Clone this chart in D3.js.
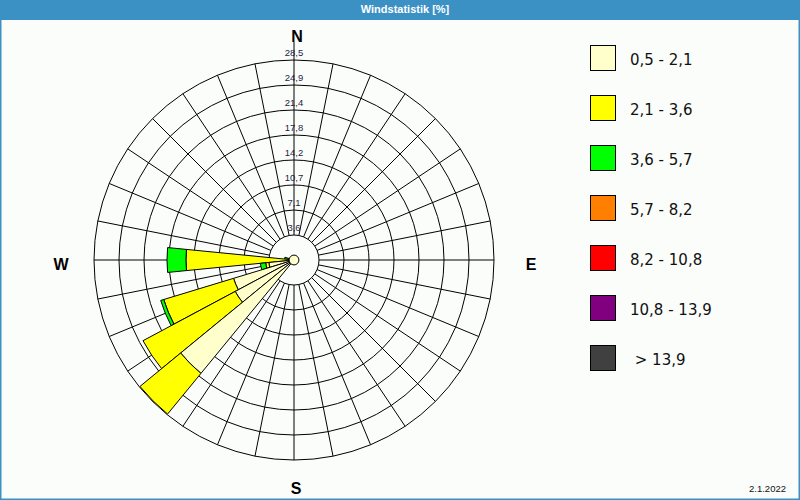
<!DOCTYPE html>
<html>
<head>
<meta charset="utf-8">
<script src="https://cdn.jsdelivr.net/npm/d3@7"></script>
<style>
  html, body { margin: 0; padding: 0; background: #fff; }
  svg { display: block; }
</style>
</head>
<body>
<svg id="chart" width="800" height="500"></svg>
<script>
// ---------- data ----------
const title = "Windstatistik [%]";
const dateLabel = "2.1.2022";
const compassLabels = ["N", "E", "S", "W"];
const compassAngles = [0, 90, 180, 270];
// wind directions (degrees, 32-point compass)
const directions = [281.25, 270, 258.75, 247.5, 236.25, 225];
// percentage per speed class for each direction
const cls1 = [0.6, 0.6, 3.6, 9.0, 9.5, 20.9];   // 0,5 - 2,1
const cls2 = [0.25, 14.8, 0.45, 10.4, 14.9, 7.5]; // 2,1 - 3,6
const cls3 = [0.5, 2.7, 0.75, 0.45, 0, 0];      // 3,6 - 5,7
const cls4 = [0, 0, 0, 0, 0, 0];                // 5,7 - 8,2
const cls5 = [0, 0, 0, 0, 0, 0];                // 8,2 - 10,8
const cls6 = [0, 0, 0, 0, 0, 0];                // 10,8 - 13,9
const cls7 = [0, 0, 0, 0, 0, 0];                // > 13,9
const calm = 0.7;
const classLabels = ["0,5 - 2,1", "2,1 - 3,6", "3,6 - 5,7", "5,7 - 8,2", "8,2 - 10,8", "10,8 - 13,9", " > 13,9"];
const classColors = ["#ffffcc", "#ffff00", "#00ff00", "#ff8000", "#ff0000", "#800080", "#404040"];
const maxValue = 28.5;
const ringValues = [3.5625, 7.125, 10.6875, 14.25, 17.8125, 21.375, 24.9375, 28.5];
const ringLabels = ["3,6", "7,1", "10,7", "14,2", "17,8", "21,4", "24,9", "28,5"];
const spokeCount = 32;

// ---------- layout ----------
const W = 800, H = 500;
const cx = 294, cy = 260, R = 200;
const svg = d3.select("#chart");
const rad = Math.PI / 180;

// background + frame
svg.append("rect").attr("x", 0).attr("y", 0).attr("width", W).attr("height", H).attr("fill", "#fbfdfb");
svg.append("rect").attr("x", 0.75).attr("y", 0.75).attr("width", W - 1.5).attr("height", H - 1.5)
  .attr("fill", "none").attr("stroke", "#3c91c4").attr("stroke-width", 1.5);
svg.append("rect").attr("x", 0).attr("y", 0).attr("width", W).attr("height", 20).attr("fill", "#3c91c4");
svg.append("text").attr("x", 405).attr("y", 13).attr("text-anchor", "middle")
  .attr("font-family", "Liberation Sans, Arial, sans-serif").attr("font-size", 11).attr("font-weight", "bold")
  .attr("fill", "#ffffff").text(title);

const r = d3.scaleLinear().domain([0, maxValue]).range([0, R]);
const g = svg.append("g").attr("transform", `translate(${cx},${cy})`);

// rings
g.selectAll("circle.ring").data(ringValues).enter().append("circle")
  .attr("class", "ring").attr("r", d => r(d))
  .attr("fill", "none").attr("stroke", "#000").attr("stroke-width", 1);

// spokes
const spokeAngles = d3.range(spokeCount).map(i => i * 360 / spokeCount);
g.selectAll("line.spoke").data(spokeAngles).enter().append("line")
  .attr("class", "spoke")
  .attr("x1", d => r(ringValues[0]) * Math.sin(d * rad))
  .attr("y1", d => -r(ringValues[0]) * Math.cos(d * rad))
  .attr("x2", d => (d === 0 ? R + 18 : R) * Math.sin(d * rad))
  .attr("y2", d => -(d === 0 ? R + 18 : R) * Math.cos(d * rad))
  .attr("stroke", "#000").attr("stroke-width", 1);

// wedges
const classes = [cls1, cls2, cls3, cls4, cls5, cls6, cls7];
const half = 360 / spokeCount / 2;
const arc = d3.arc();
directions.forEach((dir, i) => {
  let cum = 0;
  classes.forEach((c, k) => {
    const v = c[i];
    if (v > 0) {
      g.append("path")
        .attr("d", arc({ innerRadius: r(cum), outerRadius: r(cum + v),
                         startAngle: (dir - half) * rad, endAngle: (dir + half) * rad }))
        .attr("fill", classColors[k]).attr("stroke", "#000").attr("stroke-width", 1)
        .attr("stroke-linejoin", "miter");
      cum += v;
    }
  });
});

// calm circle
g.append("circle").attr("r", r(calm)).attr("fill", classColors[0]).attr("stroke", "#000").attr("stroke-width", 1);

// ring labels along N axis
g.selectAll("text.rl").data(ringValues).enter().append("text")
  .attr("class", "rl").attr("x", 0).attr("y", d => -r(d) - 4)
  .attr("text-anchor", "middle")
  .attr("font-family", "Liberation Sans, Arial, sans-serif").attr("font-size", 9.5)
  .attr("fill", "#1e1e3c")
  .text((d, i) => ringLabels[i]);

// compass labels
const compassPos = [[297, 41.5], [531, 270], [296, 494], [61, 270]];
svg.selectAll("text.cp").data(compassLabels).enter().append("text")
  .attr("class", "cp")
  .attr("x", (d, i) => compassPos[i][0]).attr("y", (d, i) => compassPos[i][1])
  .attr("text-anchor", "middle")
  .attr("font-family", "Liberation Sans, Arial, sans-serif").attr("font-size", 16).attr("font-weight", "bold")
  .attr("fill", "#000").text(d => d);

// legend
const lg = svg.append("g");
classLabels.forEach((lab, i) => {
  lg.append("rect").attr("x", 590.5).attr("y", 45.5 + i * 50).attr("width", 25).attr("height", 25)
    .attr("fill", classColors[i]).attr("stroke", "#000").attr("stroke-width", 1);
  lg.append("text").attr("x", 630).attr("y", 65 + i * 50)
    .attr("font-family", "DejaVu Sans, Verdana, sans-serif").attr("font-size", 15)
    .attr("fill", "#111").attr("xml:space", "preserve").style("white-space", "pre").text(lab);
});

// date
svg.append("text").attr("x", 786).attr("y", 492).attr("text-anchor", "end")
  .attr("font-family", "Liberation Sans, Arial, sans-serif").attr("font-size", 9.5)
  .attr("fill", "#111").text(dateLabel);
</script>
</body>
</html>
